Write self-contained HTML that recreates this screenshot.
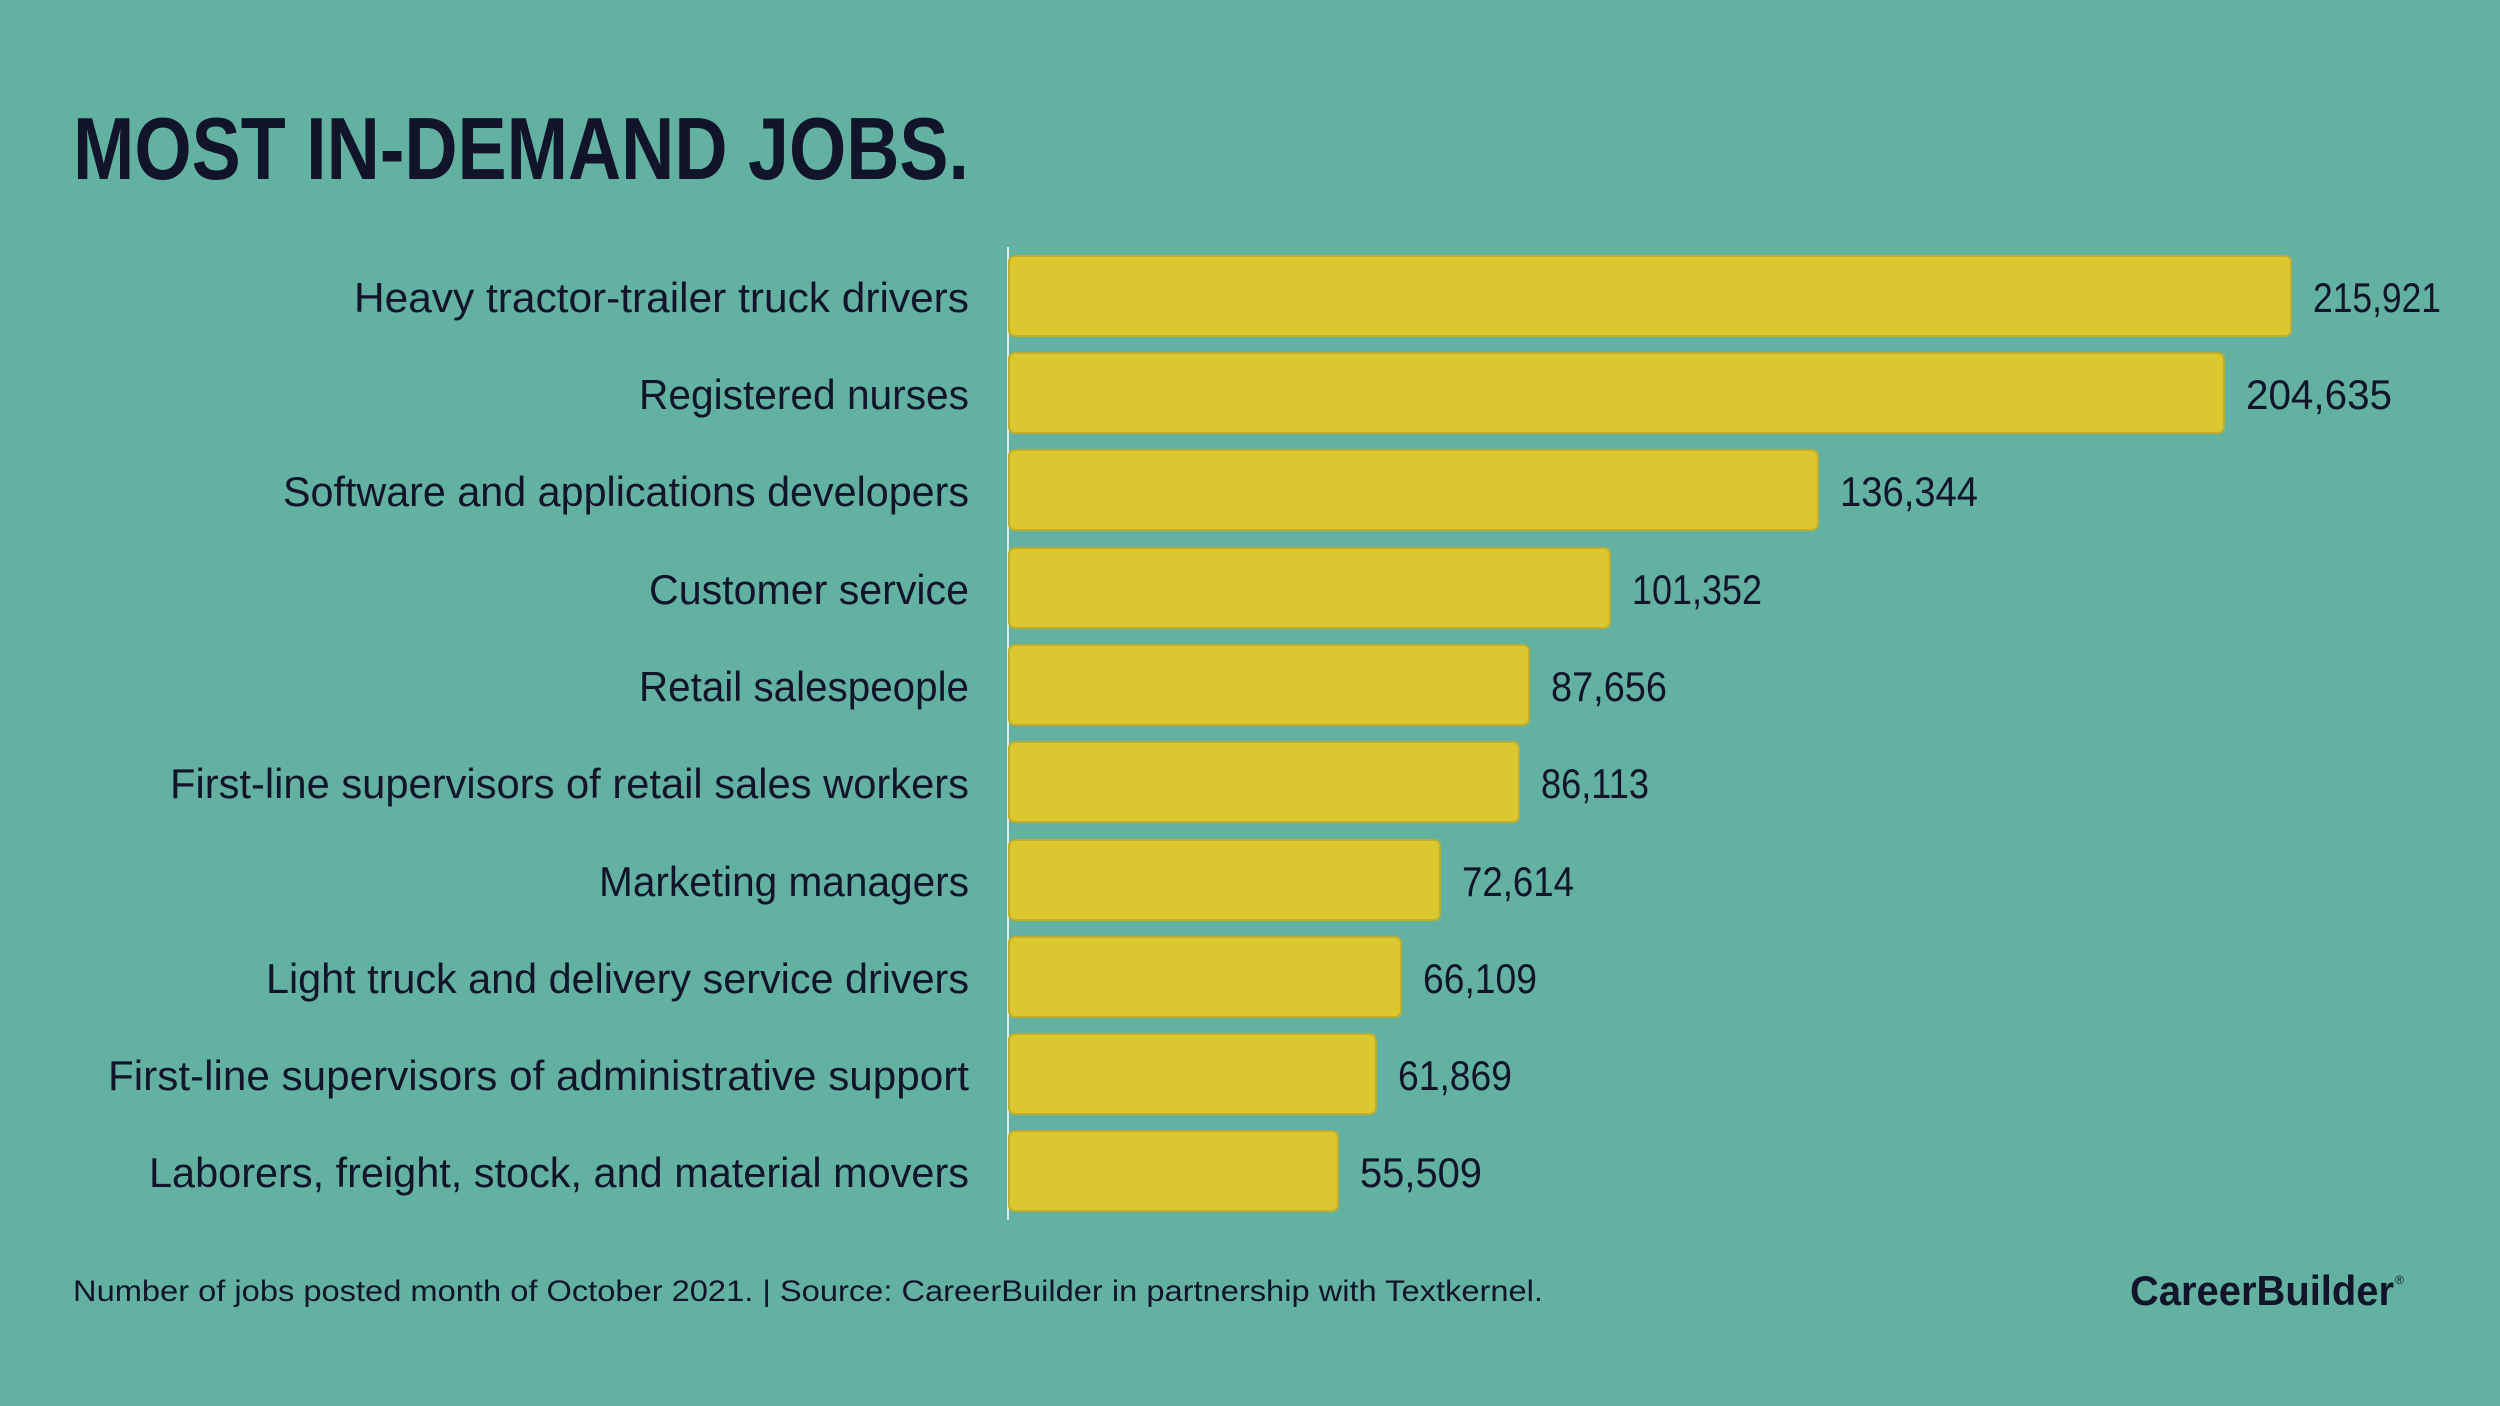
<!DOCTYPE html>
<html><head><meta charset="utf-8"><style>
html,body{margin:0;padding:0;background:#63b1a1;}
svg{display:block}
text{font-family:"Liberation Sans Narrow","Liberation Sans",sans-serif;fill:#12152a}
</style></head><body>
<svg width="2500" height="1406" viewBox="0 0 2500 1406" xmlns="http://www.w3.org/2000/svg">
<rect width="2500" height="1406" fill="#63b1a1"/>
<text x="73" y="179" font-size="88" font-weight="bold" textLength="896" lengthAdjust="spacingAndGlyphs">MOST IN-DEMAND JOBS.</text>
<line x1="1008" y1="247" x2="1008" y2="1220" stroke="#dfe9e6" stroke-width="2"/>
<g stroke="#bfae2e" stroke-width="2" fill="#dcc72f">
<rect x="1009" y="256" width="1282" height="80" rx="6"/>
<rect x="1009" y="353" width="1215" height="80" rx="6"/>
<rect x="1009" y="450" width="809" height="80" rx="6"/>
<rect x="1009" y="548" width="601" height="80" rx="6"/>
<rect x="1009" y="645" width="520" height="80" rx="6"/>
<rect x="1009" y="742" width="510" height="80" rx="6"/>
<rect x="1009" y="840" width="431" height="80" rx="6"/>
<rect x="1009" y="937" width="392" height="80" rx="6"/>
<rect x="1009" y="1034" width="367" height="80" rx="6"/>
<rect x="1009" y="1131" width="329" height="80" rx="6"/>
</g>
<g font-size="42" text-anchor="end">
<text x="969" y="312" textLength="615" lengthAdjust="spacingAndGlyphs">Heavy tractor-trailer truck drivers</text>
<text x="969" y="409" textLength="330" lengthAdjust="spacingAndGlyphs">Registered nurses</text>
<text x="969" y="506" textLength="686" lengthAdjust="spacingAndGlyphs">Software and applications developers</text>
<text x="969" y="604" textLength="320" lengthAdjust="spacingAndGlyphs">Customer service</text>
<text x="969" y="701" textLength="330" lengthAdjust="spacingAndGlyphs">Retail salespeople</text>
<text x="969" y="798" textLength="799" lengthAdjust="spacingAndGlyphs">First-line supervisors of retail sales workers</text>
<text x="969" y="896" textLength="370" lengthAdjust="spacingAndGlyphs">Marketing managers</text>
<text x="969" y="993" textLength="703" lengthAdjust="spacingAndGlyphs">Light truck and delivery service drivers</text>
<text x="969" y="1090" textLength="861" lengthAdjust="spacingAndGlyphs">First-line supervisors of administrative support</text>
<text x="969" y="1187" textLength="820" lengthAdjust="spacingAndGlyphs">Laborers, freight, stock, and material movers</text>
</g>
<g font-size="42">
<text x="2313" y="312" textLength="128" lengthAdjust="spacingAndGlyphs">215,921</text>
<text x="2246" y="409" textLength="146" lengthAdjust="spacingAndGlyphs">204,635</text>
<text x="1840" y="506" textLength="138" lengthAdjust="spacingAndGlyphs">136,344</text>
<text x="1632" y="604" textLength="130" lengthAdjust="spacingAndGlyphs">101,352</text>
<text x="1551" y="701" textLength="116" lengthAdjust="spacingAndGlyphs">87,656</text>
<text x="1541" y="798" textLength="108" lengthAdjust="spacingAndGlyphs">86,113</text>
<text x="1462" y="896" textLength="112" lengthAdjust="spacingAndGlyphs">72,614</text>
<text x="1423" y="993" textLength="114" lengthAdjust="spacingAndGlyphs">66,109</text>
<text x="1398" y="1090" textLength="114" lengthAdjust="spacingAndGlyphs">61,869</text>
<text x="1360" y="1187" textLength="122" lengthAdjust="spacingAndGlyphs">55,509</text>
</g>
<text x="73" y="1301" font-size="30" textLength="1470" lengthAdjust="spacingAndGlyphs">Number of jobs posted month of October 2021. | Source: CareerBuilder in partnership with Textkernel.</text>
<text x="2130" y="1305" font-size="42" font-weight="bold" textLength="264" lengthAdjust="spacingAndGlyphs">CareerBuilder</text>
<text x="2395" y="1284" font-size="12">®</text>
</svg>
</body></html>
